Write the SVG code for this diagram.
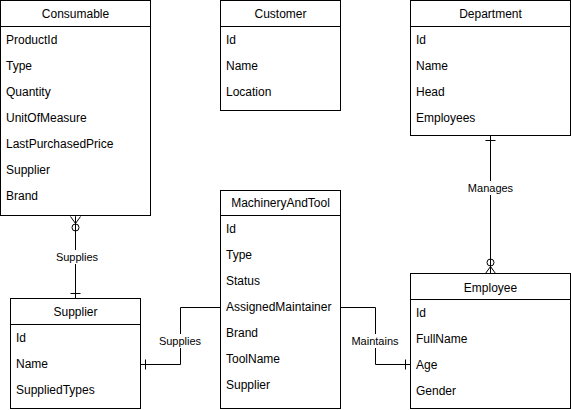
<svg xmlns="http://www.w3.org/2000/svg" width="571" height="410" viewBox="0 0 571 410">
<style>
.box{fill:#fff;stroke:#000;stroke-width:1}
.hd{stroke:#000;stroke-width:1}
.t{font-family:"Liberation Sans",Arial,sans-serif;font-size:12px;fill:#000;dominant-baseline:central}
.h{text-anchor:middle}
.e{fill:none;stroke:#000;stroke-width:1}
.lb{font-family:"Liberation Sans",Arial,sans-serif;font-size:11px;fill:#000;text-anchor:middle;dominant-baseline:central}
.lbg{fill:#fff}
</style>
<rect width="571" height="410" fill="#fff"/>
<g id="connectors">
  <!-- Consumable - Supplier -->
  <path class="e" d="M75.5 216.5V298.5"/>
  <path class="e" d="M70.5 216.5L75.5 223.5L80.5 216.5M75.5 216.5V223.5"/>
  <circle class="e" cx="75.5" cy="227.5" r="3.5" fill="#fff"/>
  <path class="e" d="M70.5 293.5H80.5"/>
  <rect class="lbg" x="55" y="250" width="42" height="14"/>
  <text class="lb" x="77" y="257">Supplies</text>
  <!-- Machinery - Supplier -->
  <path class="e" d="M220.5 307.5H180.5V364.5H140.5"/>
  <path class="e" d="M145.5 359.5V369.5"/>
  <rect class="lbg" x="159" y="334" width="42" height="14"/>
  <text class="lb" x="180" y="341">Supplies</text>
  <!-- Machinery - Employee -->
  <path class="e" d="M340.5 307.5H375.5V364.5H410.5"/>
  <path class="e" d="M405.5 359.5V369.5"/>
  <rect class="lbg" x="350" y="334" width="50" height="14"/>
  <text class="lb" x="375" y="341">Maintains</text>
  <!-- Department - Employee -->
  <path class="e" d="M490.5 135.5V273.5"/>
  <path class="e" d="M485.5 140.5H495.5"/>
  <path class="e" d="M485.5 273.5L490.5 266.5L495.5 273.5M490.5 273.5V266.5"/>
  <circle class="e" cx="490.5" cy="262.5" r="3.5" fill="#fff"/>
  <rect class="lbg" x="468" y="181" width="45" height="14"/>
  <text class="lb" x="490.5" y="188">Manages</text>
</g>
<g id="consumable">
  <rect class="box" x="0.5" y="0.5" width="150" height="215"/>
  <path class="hd" d="M0.5 26.5H150.5"/>
  <text class="t h" x="75.5" y="14">Consumable</text>
  <text class="t" x="6" y="40">ProductId</text>
  <text class="t" x="6" y="66">Type</text>
  <text class="t" x="6" y="92">Quantity</text>
  <text class="t" x="6" y="118">UnitOfMeasure</text>
  <text class="t" x="6" y="144">LastPurchasedPrice</text>
  <text class="t" x="6" y="170">Supplier</text>
  <text class="t" x="6" y="196">Brand</text>
</g>
<g id="customer">
  <rect class="box" x="220.5" y="0.5" width="120" height="110"/>
  <path class="hd" d="M220.5 26.5H340.5"/>
  <text class="t h" x="280.5" y="14">Customer</text>
  <text class="t" x="226" y="40">Id</text>
  <text class="t" x="226" y="66">Name</text>
  <text class="t" x="226" y="92">Location</text>
</g>
<g id="department">
  <rect class="box" x="410.5" y="0.5" width="160" height="135"/>
  <path class="hd" d="M410.5 26.5H570.5"/>
  <text class="t h" x="490.5" y="14">Department</text>
  <text class="t" x="416" y="40">Id</text>
  <text class="t" x="416" y="66">Name</text>
  <text class="t" x="416" y="92">Head</text>
  <text class="t" x="416" y="118">Employees</text>
</g>
<g id="machineryandtool">
  <rect class="box" x="220.5" y="190.5" width="120" height="218"/>
  <path class="hd" d="M220.5 215.5H340.5"/>
  <text class="t h" x="280.5" y="203">MachineryAndTool</text>
  <text class="t" x="226" y="229">Id</text>
  <text class="t" x="226" y="255">Type</text>
  <text class="t" x="226" y="281">Status</text>
  <text class="t" x="226" y="307">AssignedMaintainer</text>
  <text class="t" x="226" y="333">Brand</text>
  <text class="t" x="226" y="359">ToolName</text>
  <text class="t" x="226" y="385">Supplier</text>
</g>
<g id="supplier">
  <rect class="box" x="10.5" y="298.5" width="130" height="110"/>
  <path class="hd" d="M10.5 324.5H140.5"/>
  <text class="t h" x="75.5" y="312">Supplier</text>
  <text class="t" x="16" y="338">Id</text>
  <text class="t" x="16" y="364">Name</text>
  <text class="t" x="16" y="390">SuppliedTypes</text>
</g>
<g id="employee">
  <rect class="box" x="410.5" y="273.5" width="160" height="135"/>
  <path class="hd" d="M410.5 299.5H570.5"/>
  <text class="t h" x="490.5" y="288">Employee</text>
  <text class="t" x="416" y="313">Id</text>
  <text class="t" x="416" y="339">FullName</text>
  <text class="t" x="416" y="365">Age</text>
  <text class="t" x="416" y="391">Gender</text>
</g>
</svg>
